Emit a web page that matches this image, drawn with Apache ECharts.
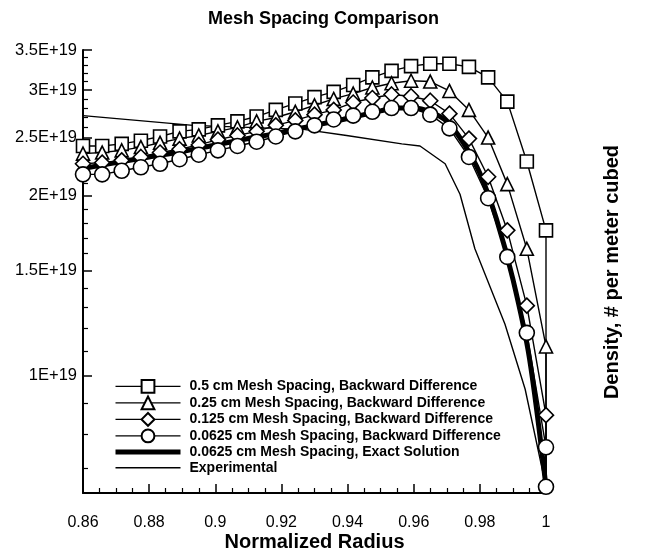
<!DOCTYPE html>
<html>
<head>
<meta charset="utf-8">
<script src="https://cdn.jsdelivr.net/npm/echarts@6/dist/echarts.min.js"></script>
<style>
html, body { margin: 0; padding: 0; background: #ffffff; }
#chart { width: 647px; height: 550px; }
</style>
</head>
<body>
<div id="chart"></div>
<script>
// Normalized radius of the plotted finite-difference nodes
const meshRadius = [0.8600, 0.8658, 0.8717, 0.8775, 0.8833, 0.8892, 0.8950, 0.9008, 0.9067,
  0.9125, 0.9183, 0.9242, 0.9300, 0.9358, 0.9417, 0.9475, 0.9533, 0.9592, 0.9650, 0.9708,
  0.9767, 0.9825, 0.9883, 0.9942, 1.0000];

// Density in units of 1E+19 per cubic metre
const mesh0500 = [2.42, 2.42, 2.44, 2.47, 2.51, 2.56, 2.58, 2.62, 2.66, 2.71, 2.78, 2.85, 2.92,
  2.98, 3.06, 3.15, 3.23, 3.29, 3.32, 3.32, 3.28, 3.15, 2.87, 2.28, 1.75];
const mesh0250 = [2.35, 2.36, 2.38, 2.41, 2.45, 2.49, 2.52, 2.56, 2.60, 2.66, 2.70, 2.76, 2.83,
  2.90, 2.96, 3.03, 3.08, 3.11, 3.10, 2.99, 2.78, 2.50, 2.09, 1.63, 1.12];
const mesh0125 = [2.26, 2.27, 2.29, 2.32, 2.36, 2.39, 2.43, 2.48, 2.52, 2.56, 2.62, 2.67, 2.73,
  2.78, 2.86, 2.91, 2.95, 2.93, 2.88, 2.74, 2.49, 2.15, 1.75, 1.31, 0.86];
const mesh0625 = [2.17, 2.17, 2.20, 2.23, 2.26, 2.30, 2.34, 2.38, 2.42, 2.46, 2.51, 2.56, 2.62,
  2.68, 2.72, 2.76, 2.80, 2.80, 2.73, 2.59, 2.32, 1.98, 1.58, 1.18, 0.76];

// Wall boundary value shared by every profile
const wallRadius = 1.0;
const wallDensity = 0.653;

const exactRadius = [0.86, 0.87, 0.88, 0.89, 0.90, 0.91, 0.92, 0.93, 0.94, 0.945, 0.95, 0.955,
  0.96, 0.965, 0.97, 0.975, 0.98, 0.985, 0.99, 0.995, 1.0];
const exactDensity = [2.22, 2.27, 2.32, 2.37, 2.43, 2.49, 2.55, 2.62, 2.69, 2.73, 2.77, 2.80,
  2.80, 2.76, 2.66, 2.45, 2.18, 1.83, 1.45, 1.07, 0.653];

const expRadius = [0.86, 0.8933, 0.9267, 0.9397, 0.9564, 0.9619, 0.9695, 0.974, 0.9785, 0.9876,
  0.9937, 1.0];
const expDensity = [2.72, 2.62, 2.58, 2.52, 2.44, 2.42, 2.26, 2.01, 1.63, 1.22, 0.95, 0.653];

// Logarithmic density axis: labelled ticks and unlabelled minor ticks (1E+19 units)
const yTickValues = [1, 1.5, 2, 2.5, 3, 3.5];
const yTickLabels = ['1E+19', '1.5E+19', '2E+19', '2.5E+19', '3E+19', '3.5E+19'];
const yMinorValues = [0.7, 0.8, 0.9, 1.1, 1.2, 1.3, 1.4, 1.6, 1.7, 1.8, 1.9, 2.1, 2.2, 2.3, 2.4,
  2.6, 2.7, 2.8, 2.9, 3.1, 3.2, 3.3, 3.4];
const yRange = [0.6376, 3.5];

const seriesNames = [
  '0.5 cm Mesh Spacing, Backward Difference',
  '0.25 cm Mesh Spacing, Backward Difference',
  '0.125 cm Mesh Spacing, Backward Difference',
  '0.0625 cm Mesh Spacing, Backward Difference',
  '0.0625 cm Mesh Spacing, Exact Solution',
  'Experimental'
];

const lg = Math.log10;
const FONT = '"Liberation Sans", Arial, Helvetica, sans-serif';

function meshData(values, keepWallSymbol) {
  const pts = meshRadius.map((r, i) => [r, lg(values[i])]);
  const wall = { value: [wallRadius, lg(wallDensity)] };
  if (!keepWallSymbol) wall.symbol = 'none';
  pts.push(wall);
  return pts;
}
function curveData(xs, ys) {
  return xs.map((r, i) => [r, lg(ys[i])]);
}

const thin = { color: '#000', width: 1.4 };
const hollow = { color: '#fff', borderColor: '#000', borderWidth: 1.6 };

function markerSeries(name, values, symbol, size, keepWall) {
  return {
    name: name, type: 'line', data: meshData(values, keepWall),
    symbol: symbol, symbolSize: size, showSymbol: true,
    lineStyle: thin, itemStyle: hollow, silent: true
  };
}
function plainSeries(name, xs, ys, width, smooth) {
  return {
    name: name, type: 'line', data: curveData(xs, ys),
    symbol: 'line', showSymbol: false, smooth: smooth,
    lineStyle: { color: '#000', width: width },
    itemStyle: { color: '#000', borderColor: '#000' }, silent: true
  };
}

const chart = echarts.init(document.getElementById('chart'));
chart.setOption({
  animation: false,
  backgroundColor: '#fff',
  title: {
    text: 'Mesh Spacing Comparison', left: 'center', top: 5,
    textStyle: { fontFamily: FONT, fontSize: 18, fontWeight: 'bold', color: '#000' }
  },
  grid: { left: 83, right: 101, top: 50, bottom: 57, containLabel: false, outerBoundsMode: 'none' },
  legend: {
    orient: 'vertical', left: 113, top: 379, padding: 0,
    itemWidth: 65, itemHeight: 16, itemGap: 1.7,
    lineStyle: { width: 1.4, color: '#000' },
    textStyle: { fontFamily: FONT, fontSize: 14, fontWeight: 'bold', color: '#000',
      padding: [0, 0, 0, 4] },
    data: seriesNames.map((n, i) => i === 4 ? { name: n, lineStyle: { width: 5 } } : { name: n })
  },
  xAxis: {
    type: 'value', min: 0.86, max: 1, interval: 0.02,
    name: 'Normalized Radius', nameLocation: 'middle', nameGap: 39, nameMoveOverlap: false,
    nameTextStyle: { fontFamily: FONT, fontSize: 20, fontWeight: 'bold', color: '#000' },
    axisLine: { show: true, onZero: false, lineStyle: { color: '#000', width: 2 } },
    axisTick: { inside: true, length: 9, lineStyle: { color: '#000', width: 1.5 } },
    minorTick: { show: true, splitNumber: 4, length: 5, lineStyle: { color: '#000', width: 1.2 } },
    splitLine: { show: false },
    axisLabel: { fontFamily: FONT, fontSize: 16, color: '#000', margin: 22 }
  },
  yAxis: [
    {
      type: 'value', min: lg(yRange[0]), max: lg(yRange[1]),
      axisLine: { show: true, onZero: false, lineStyle: { color: '#000', width: 2 } },
      axisTick: { show: true, inside: true, length: 9, customValues: yTickValues.map(lg),
        lineStyle: { color: '#000', width: 1.5 } },
      splitLine: { show: false },
      axisLabel: {
        fontFamily: FONT, fontSize: 16.5, color: '#000', margin: 6,
        customValues: yTickValues.map(lg),
        formatter: function (v) {
          let best = 0;
          yTickValues.forEach((t, i) => {
            if (Math.abs(lg(t) - v) < Math.abs(lg(yTickValues[best]) - v)) best = i;
          });
          return yTickLabels[best];
        }
      }
    },
    {
      type: 'value', min: lg(yRange[0]), max: lg(yRange[1]), position: 'left',
      axisLine: { show: false, onZero: false },
      axisTick: { show: true, inside: true, length: 5, customValues: yMinorValues.map(lg),
        lineStyle: { color: '#000', width: 1.2 } },
      axisLabel: { show: false },
      splitLine: { show: false }
    }
  ],
  graphic: [{
    type: 'text', x: 612, y: 272, rotation: Math.PI / 2,
    style: {
      text: 'Density, # per meter cubed', fill: '#000',
      font: 'bold 20px ' + FONT, align: 'center', verticalAlign: 'middle'
    }
  }],
  series: [
    markerSeries(seriesNames[0], mesh0500, 'rect', 13, false),
    markerSeries(seriesNames[1], mesh0250, 'triangle', 13, false),
    markerSeries(seriesNames[2], mesh0125, 'diamond', 15, false),
    markerSeries(seriesNames[3], mesh0625, 'circle', 15, true),
    plainSeries(seriesNames[4], exactRadius, exactDensity, 5, 0.3),
    plainSeries(seriesNames[5], expRadius, expDensity, 1.4, false)
  ]
});
</script>
</body>
</html>
